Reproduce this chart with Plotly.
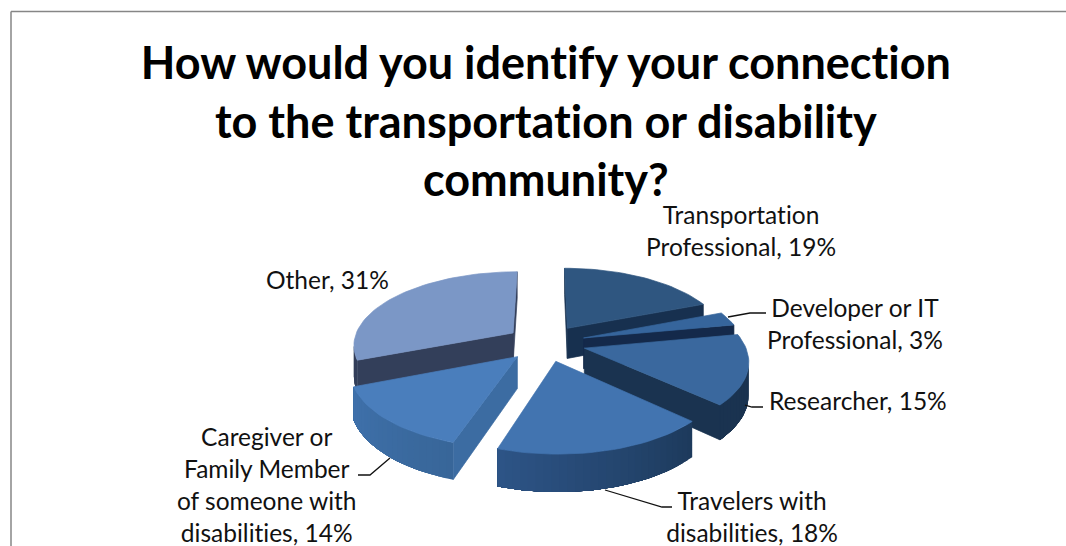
import math
import plotly.graph_objects as go

# Survey responses, in clockwise order starting from twelve o'clock
categories = ["Transportation Professional", "Developer or IT Professional", "Researcher",
              "Travelers with disabilities", "Caregiver or Family Member of someone with disabilities", "Other"]
values = [19, 3, 15, 18, 14, 31]

top_colors = ["#2f5680", "#36659c", "#3a689e", "#4274b0", "#4a7ebc", "#7b97c6"]
wall_start = ["#17304f", "#14294a", "#1a3350", "#1d3a5c", "#386699", "#333f5a"]
wall_end = ["#17304f", "#14294a", "#1a3350", "#2d5486", "#3f71ab", "#333f5a"]

draw_order = [0, 1, 2, 5, 4, 3]

# Projection of the tilted pie onto the page
CX, CY = 545.5, 343
RX, RY = 160, 73
EXPLODE = 0.25
PERSP = 0.148
DEPTH = 31

TITLE_FONT = "Lato"
LABEL_FONT = "Lato"


def project(u, v, drop=0.0):
    s = 1 / (1 + PERSP * v)
    return CX + RX * s * u, CY - RY * s * v + drop * DEPTH * s


def mix(a, b, t):
    ca = [int(a[i:i + 2], 16) for i in (1, 3, 5)]
    cb = [int(b[i:i + 2], 16) for i in (1, 3, 5)]
    return "#%02x%02x%02x" % tuple(round(x + (y - x) * t) for x, y in zip(ca, cb))


def polygon(points, color, outline=True):
    xs = [p[0] for p in points] + [points[0][0]]
    ys = [p[1] for p in points] + [points[0][1]]
    line = dict(color=color, width=0.7) if outline else dict(width=0)
    return go.Scatter(x=xs, y=ys, mode="lines", fill="toself", fillcolor=color,
                      line=line, hoverinfo="skip", showlegend=False)


def signed_area(points):
    total = 0
    for i, p in enumerate(points):
        q = points[(i + 1) % len(points)]
        total += p[0] * q[1] - q[0] * p[1]
    return total / 2


def wedge_geometry(start_pct, pct):
    a0 = start_pct / 100 * 2 * math.pi
    a1 = (start_pct + pct) / 100 * 2 * math.pi
    mid = (a0 + a1) / 2
    ou, ov = EXPLODE * math.sin(mid), EXPLODE * math.cos(mid)
    n = max(6, int(pct * 1.6))
    rim = [(ou + math.sin(a0 + (a1 - a0) * i / n), ov + math.cos(a0 + (a1 - a0) * i / n))
           for i in range(n + 1)]
    return (ou, ov), rim


fig = go.Figure()

starts = [sum(values[:i]) for i in range(len(values))]
for idx in draw_order:
    apex, rim = wedge_geometry(starts[idx], values[idx])
    # Radial walls, kept only when they face the viewer
    for edge in (rim[0], rim[-1]):
        quad = [project(*apex), project(*edge), project(*edge, 1), project(*apex, 1)]
        facing = signed_area(quad) < 0 if edge is rim[0] else signed_area(quad) > 0
        if facing:
            fig.add_trace(polygon(quad, mix(wall_start[idx], wall_end[idx], 0.5)))
    # Outer rim wall, shaded along the arc; each band runs to the far end of the
    # visible rim so the next one paints over it and no seams show
    visible = []
    for i in range(len(rim) - 1):
        a, b = rim[i], rim[i + 1]
        if signed_area([project(*a), project(*b), project(*b, 1), project(*a, 1)]) < 0:
            visible.append(i)
    if visible:
        last = visible[-1] + 1
        for i in visible:
            arc = rim[i:last + 1]
            band = [project(*p) for p in arc] + [project(*p, 1) for p in reversed(arc)]
            fig.add_trace(polygon(band, mix(wall_start[idx], wall_end[idx], i / (len(rim) - 2)),
                                  outline=False))
    # Top face
    fig.add_trace(polygon([project(*apex)] + [project(*p) for p in rim], top_colors[idx]))

# Leader lines from the labels to their slices
leaders = [
    ([728, 750, 766], [317, 313, 313]),
    ([745, 752, 763], [405, 407, 407]),
    ([605, 662, 672], [490, 507, 507]),
    ([358, 370, 390], [475, 475, 458]),
]
for lx, ly in leaders:
    fig.add_trace(go.Scatter(x=lx, y=ly, mode="lines", line=dict(color="#111111", width=1.3),
                             hoverinfo="skip", showlegend=False))

labels = [
    ("Transportation<br>Professional, 19%", 741, 230),
    ("Developer or IT<br>Professional, 3%", 855, 323),
    ("Researcher, 15%", 858, 400),
    ("Travelers with<br>disabilities, 18%", 752, 516),
    ("Caregiver or<br>Family Member<br>of someone with<br>disabilities, 14%", 266, 484),
    ("Other, 31%", 327, 279),
]
annotations = [dict(x=x, y=y, text=t, showarrow=False, xref="x", yref="y", xanchor="center",
                    yanchor="middle", align="center",
                    font=dict(family=LABEL_FONT, size=24.5, color="#111111")) for t, x, y in labels]
annotations.append(dict(x=546, y=120, xref="x", yref="y", showarrow=False, xanchor="center", yanchor="middle",
                        align="center",
                        text="<b>How would you identify your connection<br>to the transportation or disability<br>community?</b>",
                        font=dict(family=TITLE_FONT, size=45, color="#000000")))

frame = dict(color="#868686", width=1.5)
fig.update_layout(
    width=1066, height=546, autosize=False,
    margin=dict(l=0, r=0, t=0, b=0),
    paper_bgcolor="white", plot_bgcolor="white",
    xaxis=dict(range=[0, 1066], visible=False, fixedrange=True),
    yaxis=dict(range=[546, 0], visible=False, fixedrange=True),
    annotations=annotations,
    shapes=[
        dict(type="line", x0=11, x1=11, y0=11.5, y1=546, line=frame),
        dict(type="line", x0=11, x1=1066, y0=11.5, y1=11.5, line=frame),
    ],
)

# Plain letterforms: keep "ti" and "fi" from joining into ligatures
no_ligatures = ("var s=document.createElement('style');"
                "s.textContent='text{font-variant-ligatures:none !important}';"
                "document.head.appendChild(s);")
fig.write_html("out.html", config=dict(displayModeBar=False), post_script=no_ligatures)
